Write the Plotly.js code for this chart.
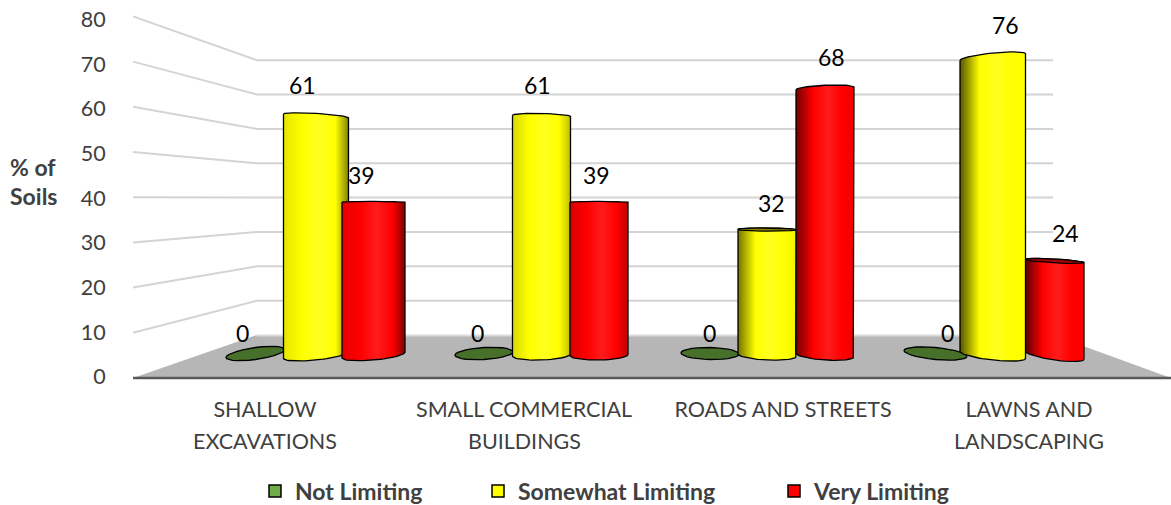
<!DOCTYPE html>
<html>
<head>
<meta charset="utf-8">
<script src="https://cdn.plot.ly/plotly-3.0.1.min.js"></script>
<style>html,body{margin:0;padding:0;background:#fff}#chart{width:1171px;height:505px}</style>
</head>
<body>
<div id="chart"></div>
<script>
// ---------- data ----------
const labelLine1 = ["SHALLOW", "SMALL COMMERCIAL", "ROADS AND STREETS", "LAWNS AND"];
const labelLine2 = ["EXCAVATIONS", "BUILDINGS", "", "LANDSCAPING"];
const notLimiting = [0, 0, 0, 0];
const somewhatLimiting = [61, 61, 32, 76];
const veryLimiting = [39, 39, 68, 24];
const yTicks = [0, 10, 20, 30, 40, 50, 60, 70, 80];

// ---------- layout geometry (pixels in the 1171x505 frame) ----------
const W = 1171, H = 505, L = 133, T = 5, B = 385;
const fx = p => (p - L) / (W - L);
const fy = p => (B - p) / (B - T);
const g0 = 315, gStep = 226.3;              // x2 axis: index <-> px
const x2 = p => (p - g0) / gStep;
const base = 355, unit = 3.92;              // y2 axis: value <-> px
const eye = 39;
const edges = {
  green: [[226, 285], [455, 513], [681, 739], [904, 967]],
  yellow: [[283.5, 348.5], [512.5, 570.5], [738, 796.5], [960, 1025.5]],
  red: [[342, 405], [570, 628], [796, 854], [1025, 1084]]
};
const shade = [[0.9, 0.5], [0.85, 0.75], [0.45, 0.95], [0.33, 1]]; // left, right edge brightness
const rgb = (c, k) => `rgb(${Math.round(c[0] * k)},${Math.round(c[1] * k)},${Math.round(c[2] * k)})`;
function scale(c, hi, g) {
  const [l, r] = shade[g];
  return [[0, rgb(c, l)], [0.3, rgb(c, 1)], [0.55, `rgb(${hi})`], [0.8, rgb(c, 1)], [1, rgb(c, r)]];
}
const tilt = (xc, v) => -(xc - 650) * (v - eye) * 2.6e-4;
const halfH = v => v === eye ? 0.7 : (v < eye ? Math.max((eye - v) * 0.128, 1.6) : (v - eye) * 0.11);

function arc(xc, a, v, from, to, extraPx, bOverride) {
  const xs = [], ys = [], b = bOverride || halfH(v), t0 = tilt(xc, v), N = 28;
  for (let i = 0; i <= N; i++) {
    const t = from + (to - from) * i / N;
    xs.push(x2(xc + a * Math.cos(t)));
    const dy = t0 * Math.cos(t) + b * Math.sin(t) + (extraPx || 0);
    ys.push(v - dy / unit);
  }
  return [xs, ys];
}
function overlay(x, y, fill, grad) {
  const t = {type: "scatter", mode: "lines", xaxis: "x2", yaxis: "y2", x, y, fill: "toself",
    line: {color: "#000", width: 1.3}, hoverinfo: "skip", showlegend: false};
  if (grad) { t.fillcolor = "rgba(0,0,0,0)"; t.fillgradient = {type: "horizontal", colorscale: grad}; }
  else t.fillcolor = fill;
  return t;
}
function cylinder(g, v, ed, c, hi, dark) {
  const xc = (ed[0] + ed[1]) / 2, a = (ed[1] - ed[0]) / 2;
  const top = arc(xc, a, v, Math.PI, 2 * Math.PI);
  const bot = arc(xc, a, 0, 0, Math.PI);
  const out = [overlay(top[0].concat(bot[0], top[0][0]), top[1].concat(bot[1], top[1][0]), null, scale(c, hi, g))];
  if (v < eye) {
    const e = arc(xc, a, v, 0, 2 * Math.PI);
    out.push(overlay(e[0], e[1], dark));
  }
  return out;
}
const idx = [0, 1, 2, 3];
const inset = 9;  // px: the flat bar sits inside the rounded silhouette drawn over it
function barTrace(name, values, ed, color, legendId) {
  return {type: "bar", name, x: idx, y: values, xaxis: "x2", yaxis: "y2", legend: legendId,
    offset: ed.map((e, i) => x2(e[0] + inset) - i), width: ed.map(e => (e[1] - e[0] - 2 * inset) / gStep),
    marker: {color, line: {color: "#000", width: 1.5}}, hoverinfo: "x+y"};
}

const traces = [
  barTrace("Not Limiting", notLimiting, edges.green, "#70ad47", "legend"),
  barTrace("Somewhat Limiting", somewhatLimiting, edges.yellow, "#ffff00", "legend2"),
  barTrace("Very Limiting", veryLimiting, edges.red, "#ff0000", "legend3")
];
const Y = [255, 255, 0], R = [255, 0, 0];
idx.forEach(g => {
  const ed = edges.green[g], xc = (ed[0] + ed[1]) / 2, a = (ed[1] - ed[0]) / 2;
  const e = arc(xc, a, notLimiting[g], 0, 2 * Math.PI, -1.5, 6);
  traces.push(overlay(e[0], e[1], "#47702a"));
  const yc = cylinder(g, somewhatLimiting[g], edges.yellow[g], Y, "255,255,32", "#8f8400");
  const rc = cylinder(g, veryLimiting[g], edges.red[g], R, "255,28,28", "#a30000");
  traces.push(...(g === 3 ? rc.concat(yc) : yc.concat(rc)));
});

// ---------- walls and floor ----------
const gridCol = "#d4d4d4";
const frontY = v => 378 - 4.52 * v, backY = v => 335 - 3.435 * v;
const shapes = [
  {type: "path", layer: "below", xref: "paper", yref: "paper", line: {width: 0}, fillcolor: "#b6b6b6",
   path: `M${fx(133)},${fy(378)} L${fx(257)},${fy(335)} L${fx(1053)},${fy(335)} L${fx(1171)},${fy(378)} Z`},
  {type: "line", layer: "below", xref: "paper", yref: "paper", x0: fx(257), x1: fx(1053), y0: fy(335.5), y1: fy(335.5),
   line: {color: "#dcdcdc", width: 2}}
];
yTicks.filter(v => v > 0).forEach(v => {
  shapes.push({type: "path", layer: "below", xref: "paper", yref: "paper", line: {color: gridCol, width: 2},
    path: `M${fx(133)},${fy(frontY(v))} L${fx(257)},${fy(backY(v))} L${fx(1053)},${fy(backY(v))}`});
});
shapes.push({type: "line", layer: "below", xref: "paper", yref: "paper", x0: 0, x1: 1, y0: fy(378), y1: fy(378),
  line: {color: "#595959", width: 2.5}});

// ---------- text ----------
const FONT = "Lato, 'Open Sans', sans-serif";
const annotations = [];
function dataLabels(values, ed, xs, ys) {
  values.forEach((v, i) => annotations.push({xref: "x2", yref: "y2", x: (x2(ed[i][0]) + x2(ed[i][1])) / 2, y: v,
    xanchor: "center", yanchor: "middle",
    text: String(v), showarrow: false, xshift: xs[i], yshift: ys[i], font: {family: FONT, size: 23, color: "#000"}}));
}
dataLabels(notLimiting, edges.green, [-13, -7, -1, 12], [22, 22, 22, 22]);
dataLabels(somewhatLimiting, edges.yellow, [-14, -4, 4, 13], [30.5, 30.5, 26.5, 32.5]);
dataLabels(veryLimiting, edges.red, [-12, -3, 6, 11], [27.5, 27.5, 31.5, 28]);
const tickPos = [0, 1, 2, 2.95];
labelLine2.forEach((t, i) => { if (t) annotations.push({xref: "x", yref: "paper", x: tickPos[i], y: fy(441), xanchor: "center", yanchor: "middle", text: t,
  showarrow: false, font: {family: FONT, size: 21.5, color: "#404040"}}); });
[["% of", 167], ["Soils", 196]].forEach(([t, y]) => annotations.push({xref: "paper", yref: "paper",
  x: fx(33), y: fy(y), xanchor: "center", yanchor: "middle", text: "<b>" + t + "</b>", showarrow: false, font: {family: FONT, size: 23, color: "#404040"}}));

const legendBox = px => ({orientation: "h", x: fx(px), xanchor: "left", y: fy(491), yanchor: "middle",
  font: {family: FONT, size: 23, color: "#404040", weight: 700}, itemwidth: 30, bgcolor: "rgba(0,0,0,0)"});
const layout = {
  width: W, height: H, margin: {l: L, r: 0, t: T, b: H - B, pad: 0, autoexpand: false},
  paper_bgcolor: "#fff", plot_bgcolor: "rgba(0,0,0,0)", barmode: "overlay", showlegend: true,
  font: {family: FONT, size: 21.5, color: "#404040"},
  xaxis: {range: [(133 - 265) / 259, (1171 - 265) / 259], tickmode: "array", tickvals: tickPos, ticktext: labelLine1,
    showgrid: false, zeroline: false, showline: false, ticks: "outside", ticklen: 5, tickcolor: "rgba(0,0,0,0)", fixedrange: true,
    tickangle: 0, automargin: false, tickfont: {family: FONT, size: 21.5, color: "#404040"}},
  yaxis: {range: [(376.7 - 385) / 4.465, (376.7 - 5) / 4.465], tickmode: "array", tickvals: yTicks, ticktext: yTicks.map(String),
    showgrid: false, zeroline: false, showline: false, ticks: "outside", ticklen: 22, tickcolor: "rgba(0,0,0,0)", fixedrange: true,
    automargin: false, tickfont: {family: FONT, size: 21.5, color: "#404040"}},
  xaxis2: {overlaying: "x", range: [x2(133), x2(1171)], visible: false, fixedrange: true},
  yaxis2: {overlaying: "y", range: [(base - 385) / unit, (base - 5) / unit], visible: false, fixedrange: true},
  legend: legendBox(255), legend2: legendBox(478), legend3: legendBox(774),
  shapes, annotations
};
Plotly.newPlot("chart", traces, layout, {displayModeBar: false, staticPlot: true});
</script>
</body>
</html>
